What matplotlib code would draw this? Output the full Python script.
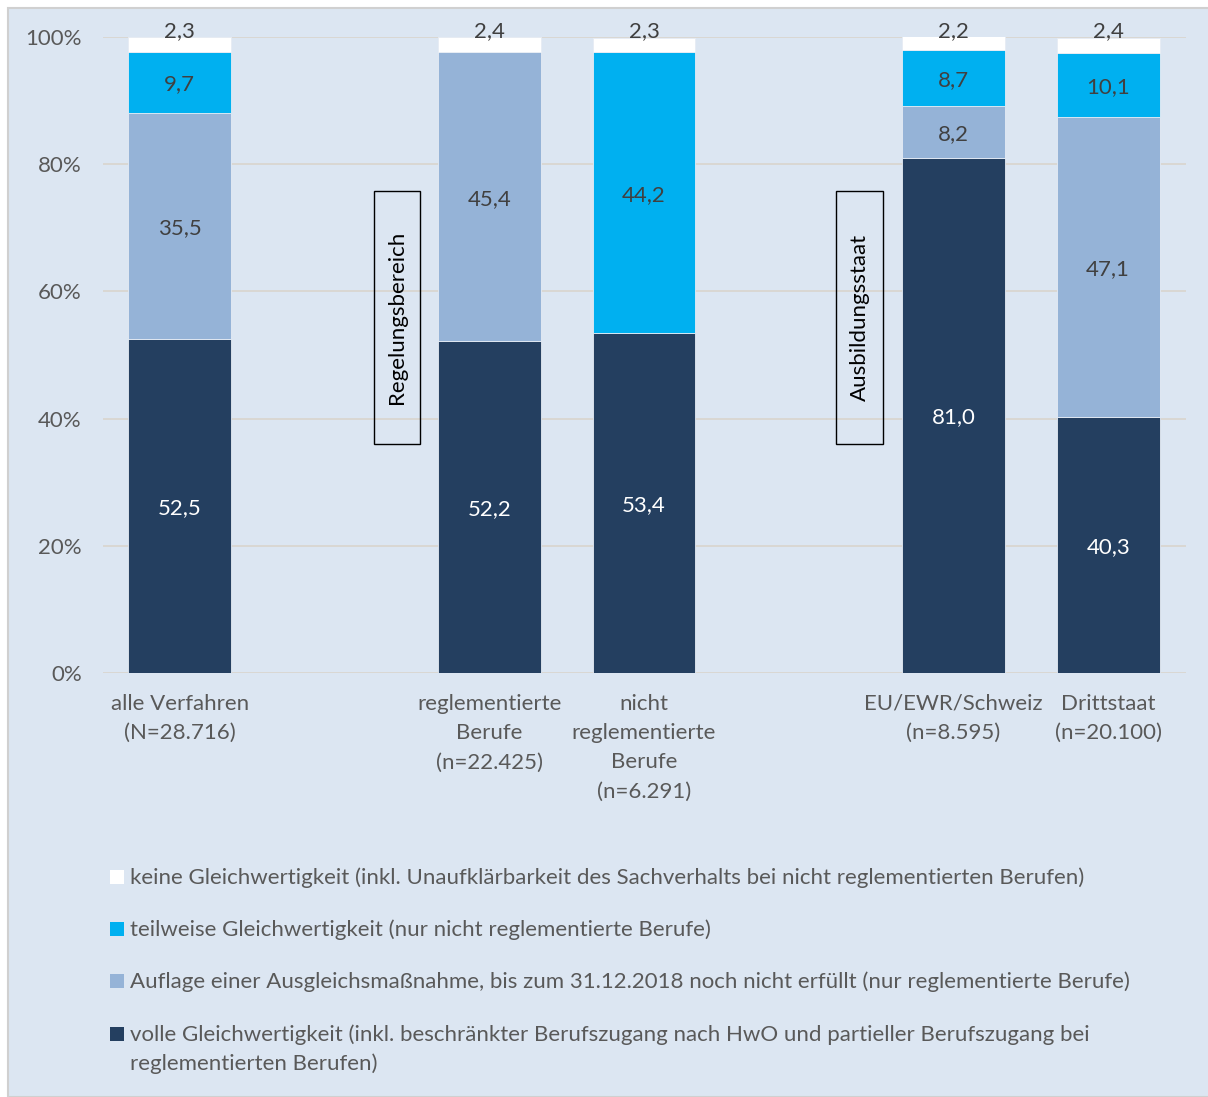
import matplotlib
matplotlib.use("Agg")
import matplotlib.pyplot as plt
from matplotlib.patches import Rectangle
import numpy as np

plt.rcParams['font.family'] = ['Lato', 'DejaVu Sans']

categories = ["alle Verfahren\n(N=28.716)", "", "reglementierte\nBerufe\n(n=22.425)",
              "nicht\nreglementierte\nBerufe\n(n=6.291)", "", "EU/EWR/Schweiz\n(n=8.595)",
              "Drittstaat\n(n=20.100)"]
volle = [52.5, None, 52.2, 53.4, None, 81.0, 40.3]
auflage = [35.5, None, 45.4, 0.0, None, 8.2, 47.1]
teilweise = [9.7, None, 0.0, 44.2, None, 8.7, 10.1]
keine = [2.3, None, 2.4, 2.3, None, 2.2, 2.4]

series_names = [
    "volle Gleichwertigkeit (inkl. beschränkter Berufszugang nach HwO und partieller Berufszugang bei\nreglementierten Berufen)",
    "Auflage einer Ausgleichsmaßnahme, bis zum 31.12.2018 noch nicht erfüllt (nur reglementierte Berufe)",
    "teilweise Gleichwertigkeit (nur nicht reglementierte Berufe)",
    "keine Gleichwertigkeit (inkl. Unaufklärbarkeit des Sachverhalts bei nicht reglementierten Berufen)",
]
colors = ["#243F60", "#95B3D7", "#00B0F0", "#FFFFFF"]
label_colors = ["#FFFFFF", "#404040", "#404040", "#404040"]
group_labels = ["Regelungsbereich", "Ausbildungsstaat"]

W, H = 1208, 1097
FS = 16
fig = plt.figure(figsize=(W / 100, H / 100), dpi=100)
fig.patch.set_facecolor("white")
BG = "#DCE6F2"
TXT = "#595959"

# panel
fig.patches.append(Rectangle((8 / W, 0), 1.0, 1 - 8 / H, transform=fig.transFigure,
                             facecolor=BG, edgecolor="#D0D0D0", linewidth=1.5, zorder=-10))

ax = fig.add_axes([102.5 / W, 1 - 673 / H, 1083 / W, 636 / H])
ax.set_facecolor("none")
ax.set_xlim(-0.5, 6.5)
ax.set_ylim(0, 100)
for s in ax.spines.values():
    s.set_visible(False)
ax.yaxis.grid(True, color="#D9D6D0", linewidth=1.3)
ax.set_axisbelow(True)
ax.set_yticks([0, 20, 40, 60, 80, 100])
ax.set_yticklabels(["0%", "20%", "40%", "60%", "80%", "100%"], fontsize=FS, color=TXT)
ax.tick_params(axis="y", length=0, pad=15)
ax.tick_params(axis="x", length=0, pad=15)
ax.set_xticks(range(len(categories)))
ax.set_xticklabels(categories, fontsize=FS, color=TXT, linespacing=1.58, va="top")

data = [volle, auflage, teilweise, keine]
idx = [i for i in range(len(categories)) if volle[i] is not None]
bottoms = np.zeros(len(idx))
for k, series in enumerate(data):
    vals = np.array([series[i] for i in idx], dtype=float)
    ax.bar(idx, vals, bottom=bottoms, width=0.665, color=colors[k],
           edgecolor="#E6ECF4", linewidth=0.6, zorder=2)
    for j, i in enumerate(idx):
        v = vals[j]
        if v <= 0:
            continue
        txt = f"{v:.1f}".replace(".", ",")
        if k == 3:
            y = 100 + 1.3
        else:
            y = bottoms[j] + v / 2
        ax.text(i, y, txt, ha="center", va="center_baseline", fontsize=FS,
                color=label_colors[k], zorder=3, clip_on=False)
    bottoms += vals

# group label boxes
for (x0, x1), lab in zip([(374, 420), (836, 883)], group_labels):
    y0, y1 = 191, 444
    fig.patches.append(Rectangle((x0 / W, 1 - y1 / H), (x1 - x0) / W, (y1 - y0) / H,
                                 transform=fig.transFigure, facecolor="none",
                                 edgecolor="#000000", linewidth=1.0, zorder=5))
    fig.text((x0 + x1) / 2 / W, 1 - (y0 + y1) / 2 / H, lab, rotation=90,
             ha="center", va="center", fontsize=FS, color="#000000")

# legend (manual)
legend_order = [3, 2, 1, 0]
legend_y = [877, 929, 981, 1034]
for k, y in zip(legend_order, legend_y):
    fig.patches.append(Rectangle((110 / W, 1 - (y + 7) / H), 14 / W, 14 / H,
                                 transform=fig.transFigure, facecolor=colors[k],
                                 edgecolor="none", zorder=5))
    fig.text(130 / W, 1 - (y - 10) / H, series_names[k], ha="left", va="top",
             fontsize=FS, color=TXT, linespacing=1.55)

fig.savefig("out.png", dpi=100, facecolor="white")
